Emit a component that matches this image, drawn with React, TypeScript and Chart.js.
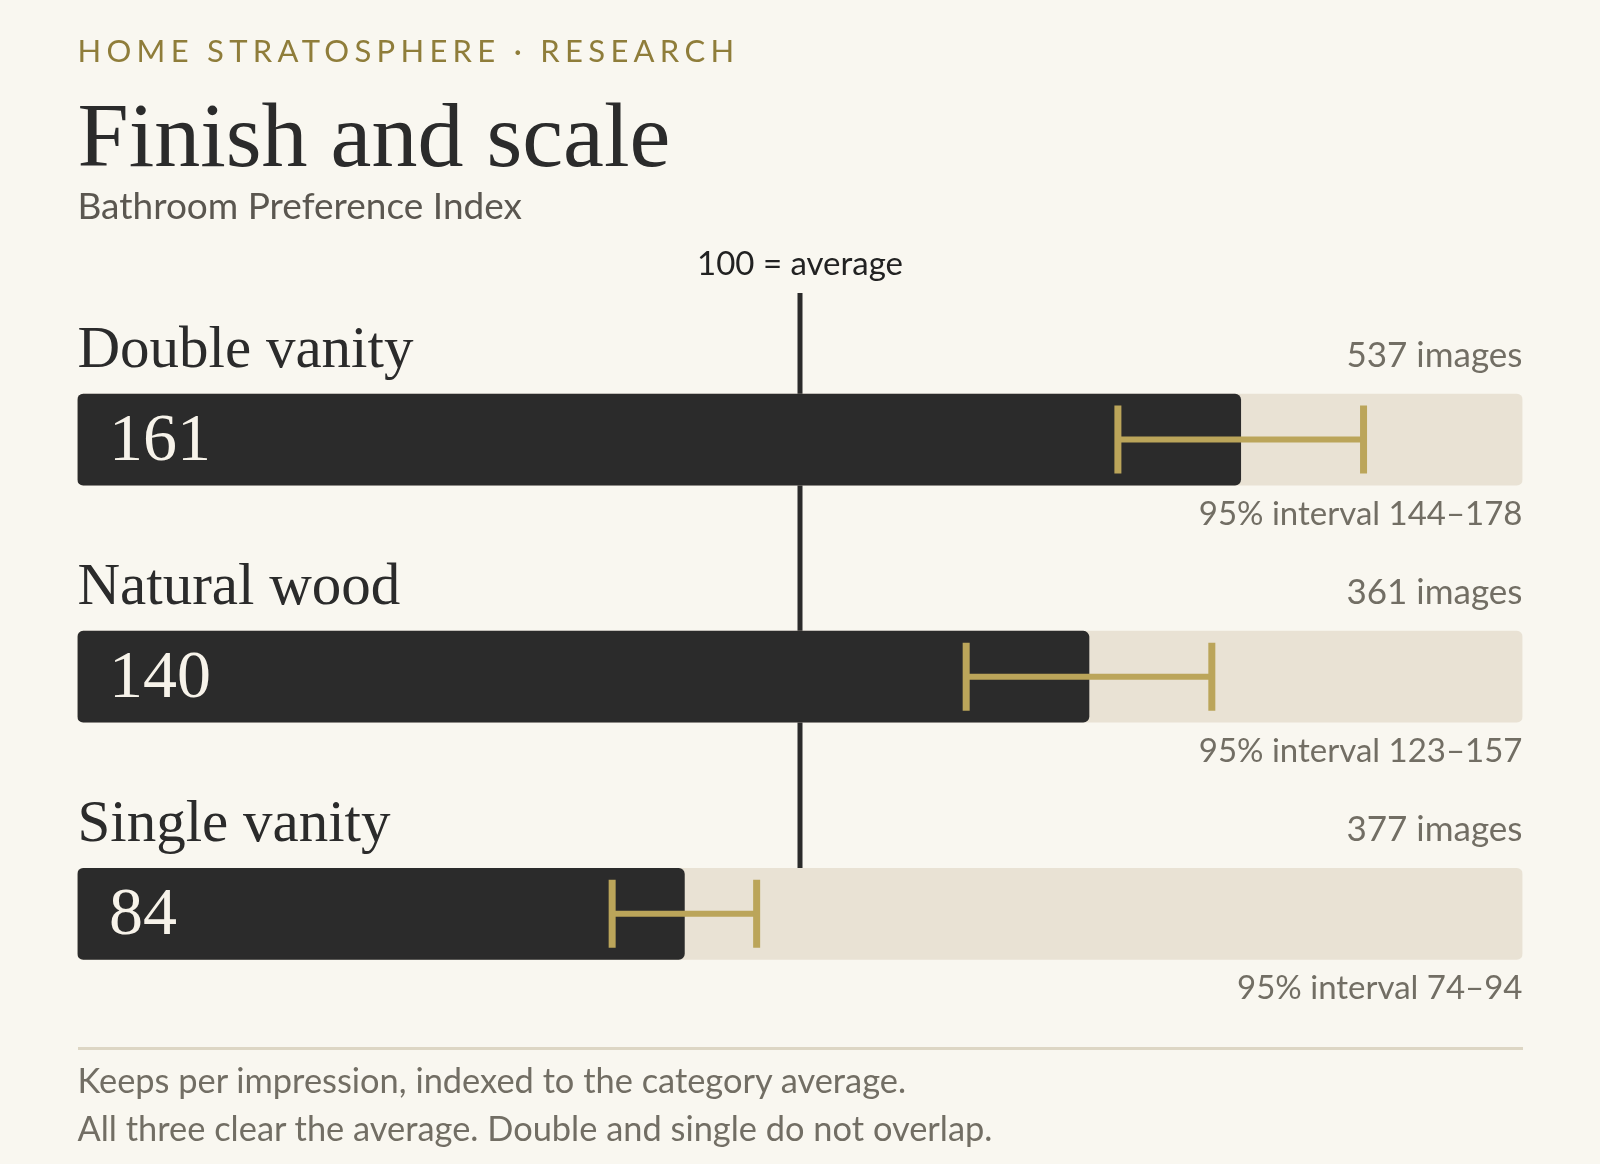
import { useEffect, useRef } from "react"
import { Chart, registerables } from "chart.js"

Chart.register(...registerables)

// data
const categories = ["Double vanity", "Natural wood", "Single vanity"]
const indexValues = [161, 140, 84]
const ciLow = [144, 123, 74]
const ciHigh = [178, 157, 94]
const imageCounts = [537, 361, 377]
const scaleMax = 200
const averageValue = 100

const BG = "#f9f7f0"
const DARK = "#2b2b2b"
const TRACK = "#e9e2d4"
const GOLD = "#bba55a"
const MUTED = "#726e64"
const SANS = "Lato, 'Noto Sans', sans-serif"
const SERIF = "'Liberation Serif', serif"

const rowPlugin = {
  id: "rowDecor",
  beforeDatasetsDraw(chart: any) {
    const { ctx, scales } = chart
    const bars = chart.getDatasetMeta(0).data
    if (!bars.length) return
    const first = bars[0].getProps(["y", "height"], true)
    const last = bars[bars.length - 1].getProps(["y", "height"], true)
    const x = scales.x.getPixelForValue(averageValue)
    ctx.save()
    ctx.strokeStyle = DARK
    ctx.lineWidth = 5
    ctx.beginPath()
    ctx.moveTo(x, first.y - first.height / 2 - 101)
    ctx.lineTo(x, last.y - last.height / 2)
    ctx.stroke()
    ctx.fillStyle = "#222222"
    ctx.font = `33px ${SANS}`
    ctx.textAlign = "center"
    ctx.textBaseline = "alphabetic"
    ctx.fillText(`${averageValue} = average`, x, first.y - first.height / 2 - 119)
    ctx.restore()
  },
  afterDatasetsDraw(chart: any) {
    const { ctx, scales, chartArea } = chart
    const bars = chart.getDatasetMeta(0).data
    ctx.save()
    bars.forEach((bar: any, i: number) => {
      const { y, height } = bar.getProps(["y", "height"], true)
      const top = y - height / 2
      const bottom = y + height / 2

      // confidence interval
      const x0 = scales.x.getPixelForValue(ciLow[i])
      const x1 = scales.x.getPixelForValue(ciHigh[i])
      ctx.strokeStyle = GOLD
      ctx.lineCap = "butt"
      ctx.lineWidth = 6
      ctx.beginPath()
      ctx.moveTo(x0, y)
      ctx.lineTo(x1, y)
      ctx.stroke()
      ctx.lineWidth = 7
      ctx.beginPath()
      ctx.moveTo(x0, y - 34)
      ctx.lineTo(x0, y + 34)
      ctx.moveTo(x1, y - 34)
      ctx.lineTo(x1, y + 34)
      ctx.stroke()

      ctx.textBaseline = "alphabetic"
      // value inside bar
      ctx.fillStyle = "#f7f3ea"
      ctx.font = `68px ${SERIF}`
      ctx.textAlign = "left"
      ctx.fillText(String(indexValues[i]), chartArea.left + 31.5, y + 20)

      // category name
      ctx.fillStyle = DARK
      ctx.font = `59px ${SERIF}`
      ctx.fillText(categories[i], chartArea.left, top - 27)

      // counts & interval
      ctx.fillStyle = MUTED
      ctx.textAlign = "right"
      ctx.font = `35px ${SANS}`
      ctx.fillText(`${imageCounts[i]} images`, chartArea.right, top - 27.5)
      ctx.font = `33px ${SANS}`
      ctx.fillText(`95% interval ${ciLow[i]}–${ciHigh[i]}`, chartArea.right, bottom + 40)
    })
    ctx.restore()
  },
}

function IndexChart() {
  const canvasRef = useRef<HTMLCanvasElement>(null)
  const chartInstance = useRef<Chart | null>(null)

  useEffect(() => {
    if (!canvasRef.current) return
    if (chartInstance.current) chartInstance.current.destroy()
    const ctx = canvasRef.current.getContext("2d")
    if (!ctx) return

    chartInstance.current = new Chart(ctx, {
      type: "bar",
      data: {
        labels: categories,
        datasets: [
          {
            label: "Index",
            data: indexValues,
            backgroundColor: DARK,
            barThickness: 91,
            borderRadius: 6,
            borderSkipped: false,
            grouped: false,
            order: 1,
          },
          {
            label: "Track",
            data: categories.map(() => scaleMax),
            backgroundColor: TRACK,
            barThickness: 91,
            borderRadius: 6,
            borderSkipped: false,
            grouped: false,
            order: 2,
          },
        ],
      },
      options: {
        indexAxis: "y",
        animation: false,
        responsive: true,
        maintainAspectRatio: false,
        events: [],
        layout: { padding: { left: 77.5, right: 77.5, top: 321, bottom: 131.6 } },
        scales: {
          x: { display: false, min: 0, max: scaleMax },
          y: { display: false },
        },
        plugins: {
          legend: { display: false },
          tooltip: { enabled: false },
        },
      },
      plugins: [rowPlugin],
    } as any)

    return () => {
      if (chartInstance.current) {
        chartInstance.current.destroy()
        chartInstance.current = null
      }
    }
  }, [])

  return <canvas ref={canvasRef} />
}

export default function App() {
  useEffect(() => {
    document.body.style.margin = "0"
    document.body.style.background = BG
  }, [])

  // top is set so the text baseline lands where the reference has it
  const abs = (baseline: number, size: number, family: string, ascent: number, color: string, extra: any = {}) => ({
    position: "absolute" as const,
    left: 77.5,
    top: baseline - ascent * size,
    fontFamily: family,
    fontSize: size,
    lineHeight: `${size}px`,
    color,
    whiteSpace: "nowrap" as const,
    margin: 0,
    ...extra,
  })
  const LATO_A = 0.887
  const SERIF_A = 0.8375

  return (
    <div style={{ position: "relative", width: 1600, height: 1164, background: BG, overflow: "hidden" }}>
      <div style={{ position: "absolute", left: 0, top: 0, width: 1600, height: 1164 }}>
        <IndexChart />
      </div>
      <div style={abs(62.3, 31, SANS, LATO_A, "#8f7d3a", { letterSpacing: "5.3px" })}>HOME STRATOSPHERE · RESEARCH</div>
      <div style={abs(165.7, 92, SERIF, SERIF_A, DARK)}>Finish and scale</div>
      <div style={abs(218.5, 37, SANS, LATO_A, "#5b5750")}>Bathroom Preference Index</div>
      <div style={{ position: "absolute", left: 77.5, top: 1047, width: 1445, height: 3, background: "#ddd6c4" }} />
      <div style={abs(1093.5, 34.4, SANS, LATO_A, MUTED)}>Keeps per impression, indexed to the category average.</div>
      <div style={abs(1141.5, 34.4, SANS, LATO_A, MUTED)}>All three clear the average. Double and single do not overlap.</div>
    </div>
  )
}
